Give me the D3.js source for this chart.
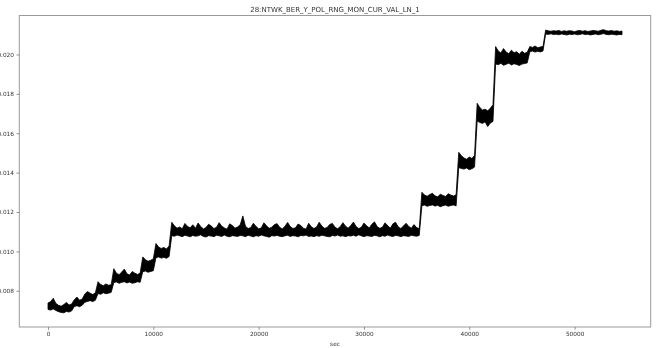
<!DOCTYPE html>
<html>
<head>
<meta charset="utf-8">
<script src="https://cdn.jsdelivr.net/npm/d3@7/dist/d3.min.js"></script>
<style>
  html, body { margin: 0; padding: 0; background: #fff; }
  svg { display: block; font-family: "DejaVu Sans", sans-serif; will-change: transform; }
</style>
</head>
<body>
<svg id="chart" width="661" height="348"></svg>
<script>
// Monitor trace: per-sample band (min / max of the raw signal) every 250 s
const chartTitle = "28:NTWK_BER_Y_POL_RNG_MON_CUR_VAL_LN_1";
const xLabel = "sec";
const sampleStep = 250;
const xTicks = [0, 10000, 20000, 30000, 40000, 50000];
const yTicks = [0.008, 0.010, 0.012, 0.014, 0.016, 0.018, 0.020];

const bandHigh = [
  0.00738, 0.00745, 0.00762, 0.00736,
  0.00726, 0.00722, 0.00730, 0.00741, 0.00728, 0.00733,
  0.00755, 0.00768, 0.00752, 0.00758,
  0.00784, 0.00796, 0.00788, 0.00781, 0.00790,
  0.00846, 0.00832, 0.00826, 0.00835, 0.00828, 0.00831,
  0.00912, 0.00889, 0.00882, 0.00895, 0.00910, 0.00886, 0.00880, 0.00898, 0.00889, 0.00883, 0.00890,
  0.00972, 0.00958, 0.00950, 0.00955, 0.00962,
  0.01040, 0.01022, 0.01015, 0.01020, 0.01012, 0.01028,
  0.01148, 0.01130, 0.01118, 0.01124, 0.01115,
  0.01142, 0.01127, 0.01120, 0.01135, 0.01117,
  0.01144, 0.01126, 0.01114, 0.01121, 0.01138,
  0.01129, 0.01116, 0.01122, 0.01146, 0.01128,
  0.01119, 0.01113, 0.01140, 0.01131, 0.01118,
  0.01124, 0.01135, 0.01180, 0.01128, 0.01116,
  0.01121, 0.01143, 0.01127, 0.01115, 0.01119,
  0.01145, 0.01130, 0.01117, 0.01123, 0.01136,
  0.01141, 0.01122, 0.01114, 0.01128, 0.01147,
  0.01126, 0.01116, 0.01120, 0.01139, 0.01131,
  0.01118, 0.01113, 0.01143, 0.01125, 0.01116,
  0.01124, 0.01148, 0.01129, 0.01117, 0.01121,
  0.01137, 0.01142, 0.01123, 0.01115, 0.01126,
  0.01146, 0.01128, 0.01118, 0.01132, 0.01149,
  0.01127, 0.01116, 0.01122, 0.01144, 0.01130,
  0.01119, 0.01138, 0.01150, 0.01126, 0.01117,
  0.01123, 0.01145, 0.01131, 0.01118, 0.01140,
  0.01148, 0.01125, 0.01116, 0.01129, 0.01143,
  0.01127, 0.01118, 0.01136, 0.01121, 0.01115,
  0.01300, 0.01286, 0.01280, 0.01289, 0.01295, 0.01282, 0.01277, 0.01290, 0.01284, 0.01279, 0.01293, 0.01286, 0.01281, 0.01288,
  0.01503, 0.01486, 0.01474, 0.01468, 0.01479, 0.01472, 0.01488,
  0.01752, 0.01731, 0.01718, 0.01722, 0.01714, 0.01727, 0.01745,
  0.02040, 0.02018, 0.02008, 0.02030, 0.02012, 0.02004, 0.02022, 0.02009, 0.02014, 0.02001, 0.02016, 0.02006, 0.02011,
  0.02040, 0.02036, 0.02043, 0.02034, 0.02038, 0.02041,
  0.02124, 0.02120, 0.02118, 0.02121, 0.02119, 0.02122, 0.02117, 0.02120, 0.02118, 0.02121,
  0.02119, 0.02116, 0.02120, 0.02122, 0.02118, 0.02121, 0.02117, 0.02119, 0.02122, 0.02120,
  0.02118, 0.02123, 0.02126, 0.02121, 0.02119, 0.02122, 0.02118, 0.02120, 0.02117, 0.02119
];

const bandLow = [
  0.00705, 0.00702, 0.00708, 0.00700,
  0.00694, 0.00690, 0.00688, 0.00695, 0.00692, 0.00698,
  0.00720, 0.00724, 0.00719, 0.00727,
  0.00742, 0.00746, 0.00750, 0.00745, 0.00752,
  0.00786, 0.00782, 0.00790, 0.00785, 0.00788, 0.00792,
  0.00842, 0.00845, 0.00838, 0.00843, 0.00846, 0.00840, 0.00844, 0.00838, 0.00841, 0.00846, 0.00843,
  0.00897, 0.00900, 0.00894, 0.00898, 0.00902,
  0.00968, 0.00972, 0.00966, 0.00970, 0.00965, 0.00974,
  0.01080, 0.01077, 0.01083, 0.01079, 0.01075,
  0.01082, 0.01078, 0.01074, 0.01081, 0.01077,
  0.01079, 0.01084, 0.01076, 0.01073, 0.01080,
  0.01078, 0.01075, 0.01082, 0.01079, 0.01076,
  0.01083, 0.01077, 0.01074, 0.01080, 0.01078,
  0.01076, 0.01081, 0.01079, 0.01075, 0.01082,
  0.01078, 0.01074, 0.01080, 0.01077, 0.01083,
  0.01079, 0.01076, 0.01072, 0.01080, 0.01078,
  0.01081, 0.01077, 0.01075, 0.01079, 0.01082,
  0.01076, 0.01080, 0.01078, 0.01074, 0.01081,
  0.01079, 0.01083, 0.01076, 0.01078, 0.01075,
  0.01080, 0.01077, 0.01082, 0.01079, 0.01076,
  0.01074, 0.01081, 0.01078, 0.01083, 0.01077,
  0.01079, 0.01075, 0.01080, 0.01078, 0.01082,
  0.01077, 0.01084, 0.01079, 0.01075, 0.01080,
  0.01078, 0.01076, 0.01081, 0.01079, 0.01074,
  0.01080, 0.01077, 0.01083, 0.01078, 0.01076,
  0.01081, 0.01079, 0.01075, 0.01080, 0.01078,
  0.01076, 0.01082, 0.01079, 0.01077, 0.01081,
  0.01232, 0.01235, 0.01229, 0.01233, 0.01236, 0.01230, 0.01234, 0.01227, 0.01232, 0.01235, 0.01229, 0.01233, 0.01236, 0.01231,
  0.01426, 0.01421, 0.01418, 0.01424, 0.01415, 0.01420, 0.01428,
  0.01662, 0.01655, 0.01650, 0.01658, 0.01634, 0.01652, 0.01660,
  0.01952, 0.01948, 0.01955, 0.01945, 0.01950, 0.01956, 0.01947, 0.01953, 0.01949, 0.01944, 0.01951, 0.01954, 0.01957,
  0.02014, 0.02017, 0.02012, 0.02016, 0.02013, 0.02018,
  0.02104, 0.02102, 0.02105, 0.02101, 0.02103, 0.02100, 0.02104, 0.02102, 0.02099, 0.02103,
  0.02101, 0.02104, 0.02100, 0.02102, 0.02105, 0.02101, 0.02103, 0.02099, 0.02102, 0.02104,
  0.02100, 0.02103, 0.02106, 0.02102, 0.02100, 0.02103, 0.02101, 0.02099, 0.02102, 0.02100
];

const samples = bandHigh.map((h, i) => ({ t: i * sampleStep, hi: h, lo: bandLow[i] }));

const svg = d3.select("#chart");
const plot = { left: 19.3, right: 650.7, top: 15.5, bottom: 327 };

// autoscale with 5% margins on both axes
function padded(ext) {
  const m = (ext[1] - ext[0]) * 0.05;
  return [ext[0] - m, ext[1] + m];
}
const xDomain = padded(d3.extent(samples, d => d.t));
const yDomain = padded([d3.min(samples, d => d.lo), d3.max(samples, d => d.hi)]);

const x = d3.scaleLinear().domain(xDomain).range([plot.left, plot.right]);
const y = d3.scaleLinear().domain(yDomain).range([plot.bottom, plot.top]);

svg.append("rect").attr("width", 661).attr("height", 348).attr("fill", "#fff");

// signal band
const band = d3.area()
  .x(d => x(d.t))
  .y0(d => y(d.lo))
  .y1(d => y(d.hi));

svg.append("path")
  .datum(samples)
  .attr("d", band)
  .attr("fill", "#000")
  .attr("stroke", "#000")
  .attr("stroke-width", 0.8)
  .attr("stroke-linejoin", "miter");

// frame
svg.append("rect")
  .attr("x", plot.left).attr("y", plot.top)
  .attr("width", plot.right - plot.left).attr("height", plot.bottom - plot.top)
  .attr("fill", "none").attr("stroke", "#9a9a9a").attr("stroke-width", 1);

// axes
const xAxis = d3.axisBottom(x).tickValues(xTicks).tickFormat(d3.format("d"))
  .tickSizeInner(2.8).tickSizeOuter(0).tickPadding(1.6);
const yAxis = d3.axisLeft(y).tickValues(yTicks).tickFormat(d3.format(".3f"))
  .tickSizeInner(2.8).tickSizeOuter(0).tickPadding(2.5);

const gx = svg.append("g").attr("transform", `translate(0,${plot.bottom})`).call(xAxis);
const gy = svg.append("g").attr("transform", `translate(${plot.left},0)`).call(yAxis);

[gx, gy].forEach(g => {
  g.select(".domain").remove();
  g.selectAll(".tick line").attr("stroke", "#777").attr("stroke-width", 0.8);
  g.selectAll(".tick text")
    .attr("fill", "#333")
    .style("font-family", "'DejaVu Sans', sans-serif")
    .style("font-size", "5.8px");
});

svg.append("text")
  .attr("x", (plot.left + plot.right) / 2)
  .attr("y", 12.3)
  .attr("text-anchor", "middle")
  .attr("fill", "#333")
  .style("font-size", "7px")
  .text(chartTitle);

svg.append("text")
  .attr("x", (plot.left + plot.right) / 2)
  .attr("y", 345.5)
  .attr("text-anchor", "middle")
  .attr("fill", "#333")
  .style("font-size", "5.8px")
  .text(xLabel);
</script>
</body>
</html>
